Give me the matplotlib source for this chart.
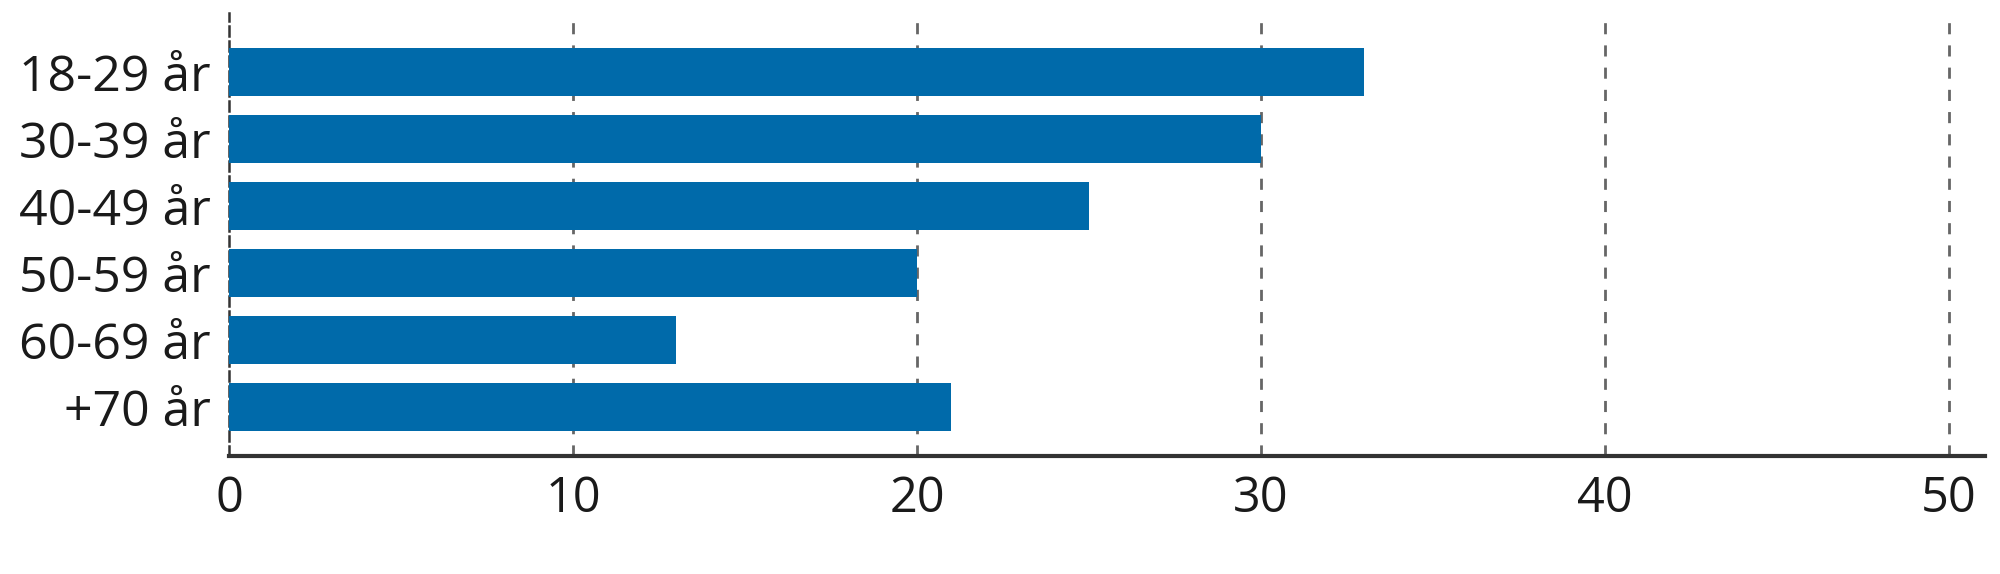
import matplotlib
matplotlib.use("Agg")
import matplotlib.pyplot as plt

# age groups and shares (%)
groups = ["18-29 år", "30-39 år", "40-49 år", "50-59 år", "60-69 år", "+70 år"]
values = [33, 30, 25, 20, 13, 21]
xticks = [0, 10, 20, 30, 40, 50]

plt.rcParams['font.family'] = ['Open Sans', 'DejaVu Sans']

fig = plt.figure(figsize=(20, 5.74), dpi=100)
ax = fig.add_axes([0.1145, 0.2056, 0.878, 0.7714])

ypos = list(range(len(groups)))
ax.barh(ypos, values, height=0.71, color="#006AAA", zorder=3)

ax.set_xlim(0, 51.05)
ax.set_ylim(5.73, -0.875)
ax.set_yticks(ypos)
ax.set_yticklabels(groups, fontsize=36, color="#1a1a1a")
ax.set_xticks(xticks)
ax.set_xticklabels([str(t) for t in xticks], fontsize=35, color="#1a1a1a")
ax.tick_params(axis="both", length=0)
ax.tick_params(axis="y", pad=13)
ax.tick_params(axis="x", pad=13)

for t in xticks[1:]:
    ax.axvline(t, color="#666666", linestyle=(0, (4, 4)), linewidth=2, zorder=1)

for s in ["top", "right"]:
    ax.spines[s].set_visible(False)
ax.spines["bottom"].set_color("#333333")
ax.spines["bottom"].set_linewidth(3)
ax.spines["left"].set_color("#333333")
ax.spines["left"].set_linewidth(1.8)
ax.spines["left"].set_linestyle((0, (4, 2)))

fig.savefig("out.png", dpi=100)
